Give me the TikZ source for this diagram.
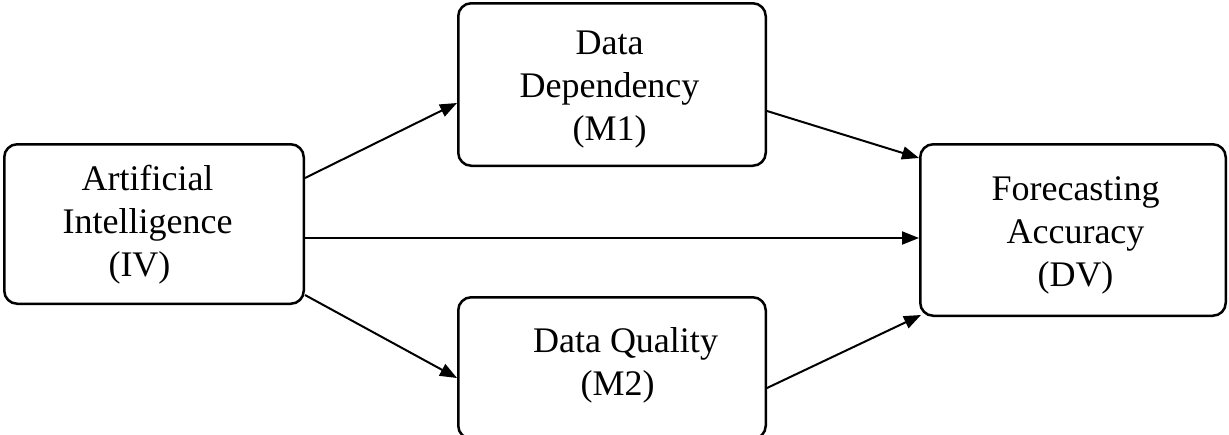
\documentclass[tikz,border=0pt]{standalone}
\usepackage{fontspec}
\setmainfont{Liberation Serif}
\usetikzlibrary{arrows.meta}

\begin{document}
\begin{tikzpicture}[x=1pt,y=-1pt,
  box/.style={draw, line width=2.5pt, rounded corners=13pt, inner sep=0pt},
  lbl/.style={align=center, inner sep=0pt, font=\fontsize{36}{43}\selectfont},
  link/.style={line width=2pt, -{Triangle[length=17pt,width=13pt]}}]
\useasboundingbox (0,0) rectangle (1229,434);
\clip (0,0) rectangle (1229,434);

% boxes
\node[box, minimum width=299.5pt, minimum height=159.5pt] (iv) at (154,224) {};
\node[box, minimum width=307.5pt, minimum height=162.5pt] (m1) at (612,84.5) {};
\node[box, minimum width=307.5pt, minimum height=141.5pt] (m2) at (612,368) {};
\node[box, minimum width=305.5pt, minimum height=171.5pt] (dv) at (1073,230) {};

% labels
\node[lbl] (ivtext) at (147.5,224.4) {Artificial\\Intelligence\\(IV)\hspace*{16pt}};
\node[lbl] (m1text) at (609.5,89.7) {Data\\Dependency\\(M1)};
\node[lbl] (m2text) at (625.5,365.4) {Data Quality\\(M2)\hspace*{16pt}};
\node[lbl] (dvtext) at (1075.5,235.9) {Forecasting\\Accuracy\\(DV)};

% paths
\draw[link] ([yshift=46pt]iv.east) -- ([yshift=-18.5pt]m1.west);
\draw[link] ([yshift=-26.5pt]m1.east) -- ([yshift=72pt]dv.west);
\draw[link] ([yshift=-14pt]iv.east) -- ([yshift=-8pt]dv.west);
\draw[link] ([yshift=-71pt]iv.east) -- ([yshift=-10pt]m2.west);
\draw[link] ([yshift=-20pt]m2.east) -- ([shift={(2pt,2pt)}]dv.south west);
\end{tikzpicture}
\end{document}
